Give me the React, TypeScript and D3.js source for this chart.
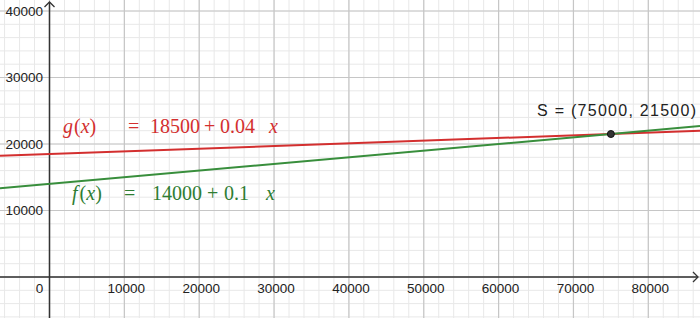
import React from "react";
import * as d3 from "d3";

const W = 700;
const H = 318;
const xTicks = [0, 10000, 20000, 30000, 40000, 50000, 60000, 70000, 80000];
const yTicks = [10000, 20000, 30000, 40000];
const fIntercept = 14000;
const fSlope = 0.1;
const gIntercept = 18500;
const gSlope = 0.04;
const intersection = [75000, 21500];

export default function App() {
  const x = d3.scaleLinear().domain([0, 80000]).range([49.5, 648.3]);
  const y = d3.scaleLinear().domain([0, 40000]).range([277, 11]);
  const [x0, x1] = [x.invert(0), x.invert(W)];
  const [y0, y1] = [y.invert(H), y.invert(0)];
  const minorX = d3.range(Math.ceil(x0 / 2000) * 2000, x1, 2000);
  const minorY = d3.range(Math.ceil(y0 / 2000) * 2000, y1, 2000);
  const majorX = d3.range(Math.ceil(x0 / 10000) * 10000, x1, 10000);
  const majorY = d3.range(Math.ceil(y0 / 10000) * 10000, y1, 10000);
  const f = (v: number) => fIntercept + fSlope * v;
  const g = (v: number) => gIntercept + gSlope * v;
  const fPath = d3.line<number>().x((d) => x(d)).y((d) => y(f(d)))([x0, x1]);
  const gPath = d3.line<number>().x((d) => x(d)).y((d) => y(g(d)))([x0, x1]);
  const serif = "'Liberation Serif', 'DejaVu Serif', serif";
  const sans = "'Liberation Sans', Arial, sans-serif";
  return (
    <svg width={W} height={H} style={{ position: "absolute", left: 0, top: 0, background: "#fff" }}>
      <rect width={W} height={H} fill="#fff" />
      {minorX.map((v) => (
        <line key={"mx" + v} x1={x(v)} x2={x(v)} y1={0} y2={H} stroke="#e8e8e8" strokeWidth={1} />
      ))}
      {minorY.map((v) => (
        <line key={"my" + v} y1={y(v)} y2={y(v)} x1={0} x2={W} stroke="#e8e8e8" strokeWidth={1} />
      ))}
      {majorX.map((v) => (
        <line key={"Mx" + v} x1={x(v)} x2={x(v)} y1={0} y2={H} stroke="#c6c6c6" strokeWidth={1.2} />
      ))}
      {majorY.map((v) => (
        <line key={"My" + v} y1={y(v)} y2={y(v)} x1={0} x2={W} stroke="#c6c6c6" strokeWidth={1.2} />
      ))}
      {/* axes */}
      <line x1={0} x2={W - 2} y1={y(0)} y2={y(0)} stroke="#333" strokeWidth={1.5} />
      <line x1={x(0)} x2={x(0)} y1={2} y2={H} stroke="#333" strokeWidth={1.5} />
      <path d={`M${W - 7},${y(0) - 5} L${W - 2},${y(0)} L${W - 7},${y(0) + 5}`} fill="none" stroke="#333" strokeWidth={1.3} />
      <path d={`M${x(0) - 5},${7} L${x(0)},${2} L${x(0) + 5},${7}`} fill="none" stroke="#333" strokeWidth={1.3} />
      {/* tick labels */}
      {xTicks.map((v) => (
        <text key={"xt" + v} x={v === 0 ? x(0) - 10 : x(v) + 2} y={293} textAnchor="middle" fontFamily={sans} fontSize={13.5} fill="#222">
          {v}
        </text>
      ))}
      {yTicks.map((v) => (
        <text key={"yt" + v} x={43} y={y(v) + 4.5} textAnchor="end" fontFamily={sans} fontSize={13.5} fill="#222">
          {v}
        </text>
      ))}
      {/* lines */}
      <path d={gPath ?? ""} stroke="#d32f2f" strokeWidth={2} fill="none" />
      <path d={fPath ?? ""} stroke="#388e3c" strokeWidth={2} fill="none" />
      {/* intersection */}
      <circle cx={x(intersection[0])} cy={y(intersection[1])} r={3.5} fill="#333" stroke="#111" strokeWidth={1} />
      <text x={537} y={116} fontFamily={sans} fontSize={16} fill="#222" textLength={159} lengthAdjust="spacing">
        S = ({intersection[0]}, {intersection[1]})
      </text>
      {/* function labels */}
      <text y={133} fontFamily={serif} fontSize={20} fill="#d32f2f">
        <tspan x={63} fontStyle="italic">g</tspan>
        <tspan dx={1}>(</tspan>
        <tspan fontStyle="italic">x</tspan>
        <tspan>)</tspan>
        <tspan x={128}>=</tspan>
        <tspan x={150}>{gIntercept}</tspan>
        <tspan x={204}>+</tspan>
        <tspan x={220}>{gSlope}</tspan>
        <tspan x={269} fontStyle="italic">x</tspan>
      </text>
      <text y={200} fontFamily={serif} fontSize={20} fill="#2e7d32">
        <tspan x={72} fontStyle="italic">f</tspan>
        <tspan dx={2}>(</tspan>
        <tspan fontStyle="italic">x</tspan>
        <tspan>)</tspan>
        <tspan x={124}>=</tspan>
        <tspan x={152}>{fIntercept}</tspan>
        <tspan x={207}>+</tspan>
        <tspan x={224}>{fSlope}</tspan>
        <tspan x={266} fontStyle="italic">x</tspan>
      </text>
    </svg>
  );
}
